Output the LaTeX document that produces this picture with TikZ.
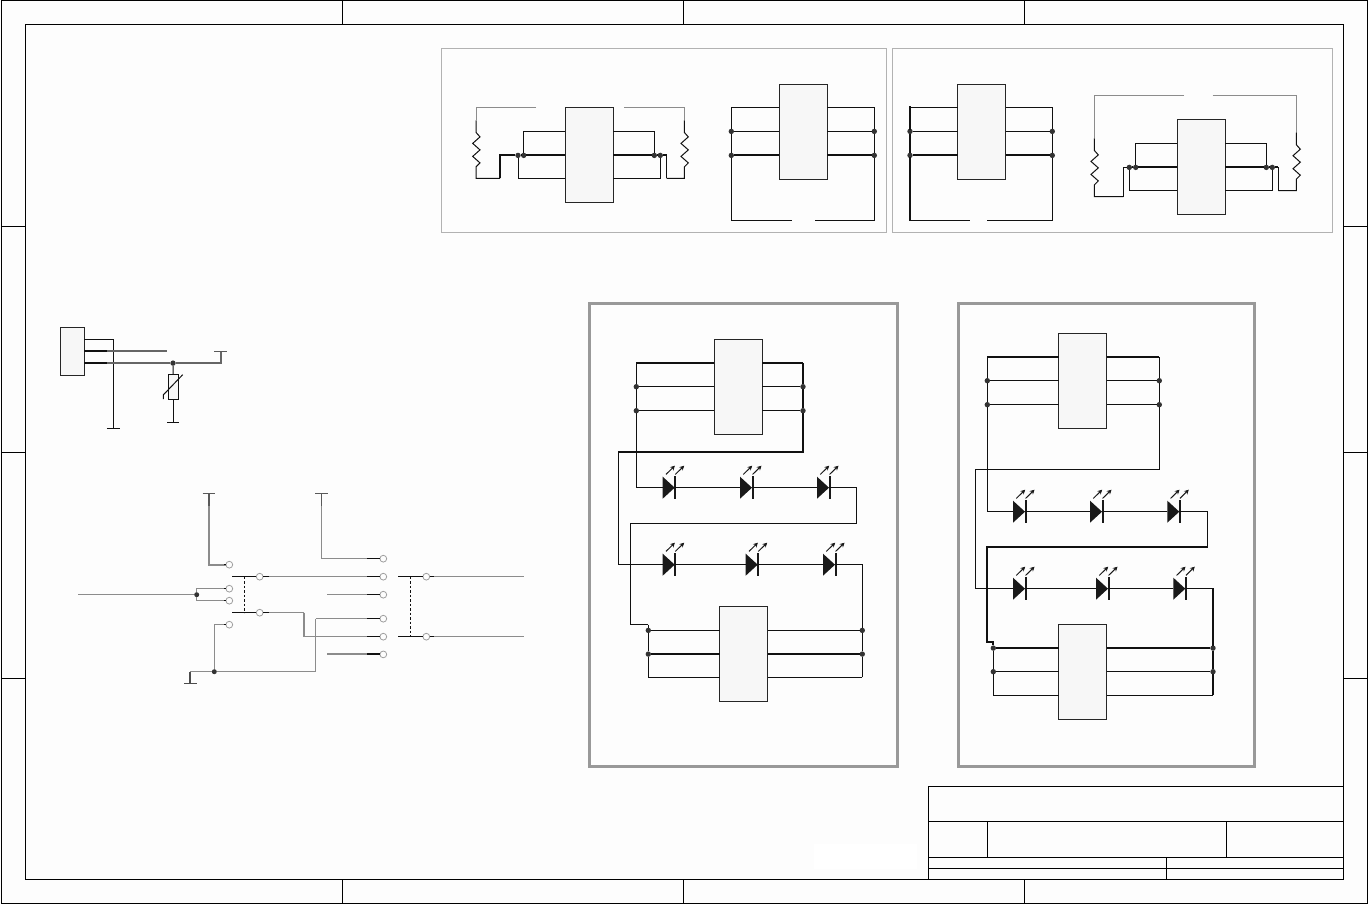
\documentclass[tikz,border=0pt]{standalone}
\usetikzlibrary{arrows.meta}
\definecolor{bgc}{HTML}{FDFDFD}
\definecolor{icf}{HTML}{F7F7F7}
\definecolor{lk}{HTML}{111111}
\tikzset{
  x=1pt,y=-1pt,
  frame/.style={draw=black,line width=1pt},
  panelbox/.style={draw=black!30,line width=1pt},
  ledbox/.style={draw=black!40,line width=3pt},
  ic/.style={draw=black!85,line width=1pt,fill=icf,minimum width=48pt,minimum height=95pt,inner sep=0pt,outer sep=0pt},
  conn/.style={draw=black!85,line width=1pt,fill=icf,minimum width=24pt,minimum height=48pt,inner sep=0pt,outer sep=0pt},
  dot/.style={circle,fill=black!80,minimum size=5.4pt,inner sep=0pt,outer sep=0pt},
  pad/.style={circle,draw=black!38,line width=.8pt,fill=bgc,minimum size=6.8pt,inner sep=0pt,outer sep=0pt},
  bk/.style={draw=lk,line width=1pt},
  tk/.style={draw=lk,line width=2pt},
  gw/.style={draw=black!45,line width=1pt},
  gt/.style={draw=black!45,line width=2pt},
  dg/.style={draw=black!65,line width=2pt},
  dsh/.style={draw=lk,line width=.9pt,dash pattern=on 2.5pt off 2pt},
  rz/.style={insert path={-- ++(0,12) -- ++(4,4.5) -- ++(-7.3,6.5) -- ++(7.3,6.5) -- ++(-7.3,6.5) -- ++(7.3,6.5) -- ++(-4,4) -- ++(0,1)}},
  led/.pic={
    \draw[draw=black!25,line width=1.4pt] (-8.5,0) -- (27.5,0);
    \fill[black!90] (0,-11) -- (12,0) -- (0,11) -- cycle;
    \draw[draw=black!90,line width=2pt] (12.6,-11.3) -- (12.6,11.3);
    \draw[draw=black!90,line width=1pt,-{Stealth[length=4.6pt,width=4.8pt]}] (3.3,-13.3) -- (12.2,-22);
    \draw[draw=black!90,line width=1pt,-{Stealth[length=4.6pt,width=4.8pt]}] (12.6,-13.3) -- (21.5,-22);
    \coordinate (-a) at (0,0);
    \coordinate (-k) at (12.6,0);
  }
}
\begin{document}
\begin{tikzpicture}
\fill[bgc] (0,0) rectangle (1368,904);
\useasboundingbox (0,0) rectangle (1368,904);
\fill[white] (814,844) rectangle (917,869);

% ---------- sheet frame
\draw[frame] (1,1) rectangle (1367,903);
\draw[frame] (25,25) rectangle (1343,879);
\foreach \tx in {342.5,683.5,1024.5}{
  \draw[frame] (\tx,1) -- (\tx,25);
  \draw[frame] (\tx,879) -- (\tx,903);
}
\foreach \ty in {226.5,452.5,678.5}{
  \draw[frame] (1,\ty) -- (25,\ty);
  \draw[frame] (1343,\ty) -- (1367,\ty);
}
% ---------- title block
\draw[frame] (928.5,879) -- (928.5,786.5) -- (1343,786.5);
\draw[frame] (928.5,821.5) -- (1343,821.5);
\draw[frame] (928.5,857) -- (1343,857);
\draw[frame] (928.5,868.5) -- (1343,868.5);
\draw[frame] (987.5,821.5) -- (987.5,857);
\draw[frame] (1226,821.5) -- (1226,857);
\draw[frame] (1166,857) -- (1166,879);

\begin{scope}[shift={(0,0.4)}]
% ---------- upper panels
\draw[panelbox] (441.5,48.5) rectangle (886.5,232.5);
\draw[panelbox] (892.5,48.5) rectangle (1332.5,232.5);

% panel A
\node[ic] (a) at (589,154.5) {};
\node[dot] (a1) at (518,155) {};
\node[dot] (a2) at (523.7,155) {};
\node[dot] (a3) at (654.3,155) {};
\node[dot] (a4) at (660.3,155) {};
\coordinate (ag1) at (536,107);
\coordinate (ag2) at (624,107);
\coordinate (ar1) at (476,120);
\coordinate (ar2) at (684.3,120);
\coordinate (ak) at (500,178);
\coordinate (am) at (666.7,178);
\draw[gw] (ag1) -| (ar1);
\draw[gw] (ag2) -| (ar2);
\draw[bk] (ar1) [rz] |- (ak);
\draw[bk] (ar2) [rz] |- (am);
\draw[tk] (ak) |- (a1);
\draw[bk] (am) -- (am |- a4);
\draw[tk] (a1) -- (a2);
\draw[tk] (a2) -- (a.west |- a2);
\draw[tk] (a.east |- a3) -- (a3);
\draw[tk] (a3) -- (a4);
\draw[tk] (a4) -- (am |- a4);
\draw[bk] (a2) |- (a.west |- 0,131);
\draw[bk] (a1) |- (a.west |- 0,178);
\draw[bk] (a3) |- (a.east |- 0,131);
\draw[bk] (a4) |- (a.east |- 0,178);

% panel B
\node[ic] (b) at (803.2,131.8) {};
\node[dot] (b1) at (731.3,131) {};
\node[dot] (b2) at (731.3,155) {};
\node[dot] (b3) at (874.3,131) {};
\node[dot] (b4) at (874.3,155) {};
\coordinate (bg1) at (791.7,220);
\coordinate (bg2) at (814.7,220);
\draw[bk] (b.west |- 0,107) -| (b1);
\draw[bk] (b1) -- (b2);
\draw[bk] (b2) |- (bg1);
\draw[bk] (b.east |- 0,107) -| (b3);
\draw[bk] (b3) -- (b4);
\draw[bk] (b4) |- (bg2);
\draw[bk] (b1) -- (b.west |- b1);
\draw[bk] (b3) -- (b.east |- b3);
\draw[tk] (b2) -- (b.west |- b2);
\draw[tk] (b4) -- (b.east |- b4);

% panel C
\node[ic] (c) at (981.5,131.8) {};
\node[dot] (c1) at (910,131) {};
\node[dot] (c2) at (910,155) {};
\node[dot] (c3) at (1052.3,131) {};
\node[dot] (c4) at (1052.3,155) {};
\coordinate (cg0) at (910,220);
\coordinate (cg1) at (970,220);
\coordinate (cg2) at (986.7,220);
\draw[bk] (c.west |- 0,107) -| (c1);
\draw[draw=lk,line width=2pt,line cap=rect] (c1 |- 0,107) -- (c1);
\draw[draw=lk,line width=2pt] (c1) -- (c2);
\draw[draw=lk,line width=2pt,line cap=rect] (c2) -- (cg0);
\draw[bk] (cg0) -- (cg1);
\draw[bk] (c.east |- 0,107) -| (c3);
\draw[bk] (c3) -- (c4);
\draw[bk] (c4) |- (cg2);
\draw[bk] (c1) -- (c.west |- c1);
\draw[bk] (c3) -- (c.east |- c3);
\draw[tk] (c2) -- (c.west |- c2);
\draw[tk] (c4) -- (c.east |- c4);

% panel D
\node[ic] (d) at (1201.3,166.8) {};
\node[dot] (d1) at (1129.3,167) {};
\node[dot] (d2) at (1135.7,167) {};
\node[dot] (d3) at (1266.3,167) {};
\node[dot] (d4) at (1272.3,167) {};
\coordinate (dg1) at (1184,95.3);
\coordinate (dg2) at (1212.7,95.3);
\coordinate (dr1) at (1094.3,138);
\coordinate (dr2) at (1296.3,132.3);
\coordinate (dk) at (1123.3,196.3);
\coordinate (dm) at (1278.3,190.3);
\draw[gw] (dg1) -| (dr1);
\draw[gw] (dg2) -| (dr2);
\draw[bk] (dr1) [rz] |- (dk);
\draw[bk] (dr2) [rz] |- (dm);
\draw[bk] (dk) |- (d1);
\draw[bk] (dm) -- (dm |- d4);
\draw[tk] (d1) -- (d2);
\draw[tk] (d2) -- (d.west |- d2);
\draw[tk] (d.east |- d3) -- (d3);
\draw[tk] (d3) -- (d4);
\draw[tk] (d4) -- (dm |- d4);
\draw[bk] (d2) |- (d.west |- 0,143.3);
\draw[bk] (d1) |- (d.west |- 0,190.3);
\draw[bk] (d3) |- (d.east |- 0,143.3);
\draw[bk] (d4) |- (d.east |- 0,190.3);

% ---------- connector and varistor
\node[conn] (j) at (72.3,351.3) {};
\node[dot] (jd) at (173,362.7) {};
\node[draw=lk,line width=1pt,fill=icf,minimum width=10pt,minimum height=24.4pt,inner sep=0pt,outer sep=0pt] (rv) at (173.3,386.5) {};
\coordinate (jg) at (113.3,428.3);
\coordinate (je1) at (107.3,351);
\coordinate (je2) at (107.3,362.7);
\coordinate (je3) at (167.3,351);
\coordinate (je4) at (220.7,351);
\coordinate (je5) at (173.3,422.3);
\draw[bk] (j.east |- 0,339.3) -| (jg);
\draw[bk] ([xshift=-6.5pt]jg) -- ([xshift=6.7pt]jg);
\draw[draw=black!60,line width=2pt] (je1) -- (je3);
\draw[draw=black!60,line width=2pt] (je2) -- (jd);
\draw[draw=black!60,line width=2pt] (jd) -| (je4);
\draw[tk] (j.east |- je1) -- (je1);
\draw[tk] (j.east |- je2) -- (je2);
\draw[draw=black!65,line width=1.4pt] ([xshift=-6.7pt]je4) -- ([xshift=6.7pt]je4);
\draw[bk] (jd) -- (rv);
\draw[bk] (rv) -- (je5);
\draw[bk] ([xshift=-6pt]je5) -- ([xshift=6pt]je5);
\draw[bk] (163.3,398.7) -- (163.3,394.5) -- (182.7,374.3);

% ---------- switches
\node[pad] (p1) at (229.3,564.3) {};
\node[pad] (p2) at (229.3,588.3) {};
\node[pad] (p3) at (229.3,600.3) {};
\node[pad] (p4) at (229.3,624.3) {};
\node[pad] (s1) at (259.7,576.3) {};
\node[pad] (s2) at (259.7,612.3) {};
\node[pad] (o1) at (383.3,558.3) {};
\node[pad] (o2) at (383.3,576.3) {};
\node[pad] (o3) at (383.3,594.3) {};
\node[pad] (o4) at (383.3,618.3) {};
\node[pad] (o5) at (383.3,636.3) {};
\node[pad] (o6) at (383.3,654) {};
\node[pad] (s3) at (426.3,576.3) {};
\node[pad] (s4) at (426.3,636.3) {};
\node[dot,minimum size=5pt] (n1) at (196.7,594.3) {};
\node[dot,minimum size=5pt] (n2) at (214.3,671.3) {};
\coordinate (t1) at (209,493.3);
\coordinate (t1b) at (209,505.7);
\coordinate (t2) at (321.7,493.3);
\coordinate (t2b) at (321.7,505.7);
\coordinate (gnd) at (190.3,683.3);
\coordinate (in) at (78,594.3);
\coordinate (f1) at (327.3,594.3);
\coordinate (f2) at (327.3,654);
\coordinate (r1) at (524,576.3);
\coordinate (r2) at (524,636.3);
\coordinate (w1) at (232,576.3);
\coordinate (w2) at (232,612.3);
\coordinate (w3) at (398.3,576.3);
\coordinate (w4) at (398.3,636.3);
\coordinate (cr1) at (304,612.3);
\coordinate (cr2) at (315.7,618.3);
% gray runs
\draw[gt] (t1b) |- (p1);
\draw[dg] (t1) -- (t1b);
\draw[draw=black!65,line width=1.1pt] ([xshift=-6.3pt]t1) -- ([xshift=6.3pt]t1);
\draw[gw] (t2b) |- (o1);
\draw[draw=black!65,line width=1pt] (t2) -- (t2b);
\draw[draw=black!65,line width=1pt] ([xshift=-6.3pt]t2) -- ([xshift=6.3pt]t2);
\draw[bk] (p1) -- ++(-5,0);
\draw[gw] (in) -- (n1);
\draw[gw] (n1) |- (p2);
\draw[gw] (n1) |- (p3);
\draw[bk] (p2) -- ++(-5,0);
\draw[bk] (p3) -- ++(-5,0);
\draw[gw] (p4) -| (n2);
\draw[bk] (p4) -- ++(-5,0);
\draw[gw] (n2) -| (gnd);
\draw[draw=black!70,line width=2pt] (gnd |- 0,672) -- (gnd);
\draw[draw=black!70,line width=1pt] ([xshift=-6.3pt]gnd) -- ([xshift=6.6pt]gnd);
\draw[gw] (n2) -| (cr2);
\draw[gw] (cr2) -- (o4);
\draw[gw] (s1) -- (o2);
\draw[gw] (s2) -- (cr1);
\draw[gt] (cr1) -- (cr1 |- o5);
\draw[gw] (cr1 |- o5) -- (o5);
\draw[gw] (f1) -- (o3);
\draw[gt] (f2) -- (o6);
\draw[gw] (s3) -- (r1);
\draw[gw] (s4) -- (r2);
% black stubs
\draw[bk] (w1) -- (s1);
\draw[bk] (w2) -- (s2);
\draw[bk] (s1) -- ++(9,0);
\draw[bk] (s2) -- ++(9,0);
\draw[bk] (w3) -- (s3);
\draw[bk] (w4) -- (s4);
\draw[bk] (s3) -- ++(8,0);
\draw[bk] (s4) -- ++(8,0);
\foreach \o in {o1,o2,o3,o4,o5}{ \draw[bk] (\o) -- ++(-16,0); }
\draw[tk] (o6) -- ++(-16,0);
\draw[dsh] (244.3,576.3) -- (244.3,612.3);
\draw[dsh] (410.3,576.3) -- (410.3,636.3);

% ---------- LED panels
\draw[ledbox] (589.5,303.5) rectangle (897.5,766);
\draw[ledbox] (958,303.5) rectangle (1254,766);

% left LED board
\node[ic] (e) at (738,386.8) {};
\node[ic] (f) at (743.8,653.8) {};
\node[dot] (e1) at (636.3,386.3) {};
\node[dot] (e2) at (636.3,410.3) {};
\node[dot] (e3) at (803,386.3) {};
\node[dot] (e4) at (803,410.3) {};
\node[dot] (f1d) at (648.3,630) {};
\node[dot] (f2d) at (648.3,653.7) {};
\node[dot] (f3d) at (862.3,630) {};
\node[dot] (f4d) at (862.3,653.7) {};
\pic (l1) at (662.7,487.3) {led};
\pic (l2) at (740,487.3) {led};
\pic (l3) at (817,487.3) {led};
\pic (l4) at (662.7,564.3) {led};
\pic (l5) at (745.7,564.3) {led};
\pic (l6) at (823,564.3) {led};
\coordinate (ea) at (636.3,363);
\coordinate (eb) at (803,363);
\coordinate (ec) at (803,452);
\coordinate (ed) at (618.7,452);
\coordinate (ee) at (856.7,523.3);
\coordinate (ef) at (630.3,523.3);
\coordinate (eg) at (630.3,624.3);
\coordinate (eh) at (648.3,624.3);
\coordinate (ei) at (648.3,677);
\coordinate (ej) at (862.3,677);
\draw[tk] (e.west |- ea) -- (ea);
\draw[tk] (e.east |- eb) -- (eb);
\draw[bk] (ea) -- (e1);
\draw[bk] (e1) -- (e2);
\draw[bk] (e2) |- (l1-a);
\draw[tk] (eb) -- (e3);
\draw[tk] (e3) -- (e4);
\draw[tk] (e4) -- (ec);
\draw[tk,line cap=rect] (ec) -- (ed);
\draw[bk] (ed) |- (l4-a);
\draw[bk] (e1) -- (e.west |- e1);
\draw[bk] (e2) -- (e.west |- e2);
\draw[bk] (e3) -- (e.east |- e3);
\draw[bk] (e4) -- (e.east |- e4);
\draw[bk] (l1-k) -- (l2-a);
\draw[bk] (l2-k) -- (l3-a);
\draw[bk] (l3-k) -| (ee);
\draw[bk] (ee) -- (ef);
\draw[bk] (ef) -- (eg);
\draw[bk] (eg) -- (eh);
\draw[bk] (eh) -- (f1d);
\draw[bk] (l4-k) -- (l5-a);
\draw[bk] (l5-k) -- (l6-a);
\draw[bk] (l6-k) -| (f3d);
\draw[bk] (f1d) -- (f2d);
\draw[bk] (f2d) -- (ei);
\draw[bk] (ei) -- (f.west |- ei);
\draw[bk] (f3d) -- (f4d);
\draw[bk] (f4d) -- (ej);
\draw[bk] (ej) -- (f.east |- ej);
\draw[bk] (f1d) -- (f.west |- f1d);
\draw[bk] (f3d) -- (f.east |- f3d);
\draw[tk] (f2d) -- (f.west |- f2d);
\draw[tk] (f4d) -- (f.east |- f4d);

% right LED board
\node[ic] (g) at (1082.5,380.8) {};
\node[ic] (h) at (1082.5,671.8) {};
\node[dot] (g1) at (987.3,380.3) {};
\node[dot] (g2) at (987.3,404.3) {};
\node[dot] (g3) at (1159.3,380.3) {};
\node[dot] (g4) at (1159.3,404.3) {};
\node[dot] (h1) at (993.3,647.7) {};
\node[dot] (h2) at (993.3,671.3) {};
\node[dot] (h3) at (1213,647.7) {};
\node[dot] (h4) at (1213,671.3) {};
\pic (m1) at (1013,511.3) {led};
\pic (m2) at (1090,511.3) {led};
\pic (m3) at (1167.3,511.3) {led};
\pic (m4) at (1013,588.3) {led};
\pic (m5) at (1096,588.3) {led};
\pic (m6) at (1173.3,588.3) {led};
\coordinate (ga) at (987.3,356.7);
\coordinate (gb) at (1159.3,356.7);
\coordinate (gc) at (1159.3,469.3);
\coordinate (gd) at (975.3,469.3);
\coordinate (ge) at (1207.3,546.7);
\coordinate (gf) at (987.3,546.7);
\coordinate (gg) at (987.3,641.7);
\coordinate (gh) at (993.3,641.7);
\coordinate (gi) at (993.3,695);
\coordinate (gj) at (1213,695);
\draw[tk] (g.west |- ga) -- (ga);
\draw[tk] (g.east |- gb) -- (gb);
\draw[bk] (ga) -- (g1);
\draw[bk] (g1) -- (g2);
\draw[bk] (g2) |- (m1-a);
\draw[bk] (gb) -- (g3);
\draw[bk] (g3) -- (g4);
\draw[bk] (g4) -- (gc);
\draw[bk] (gc) -- (gd);
\draw[bk] (gd) |- (m4-a);
\draw[bk] (g1) -- (g.west |- g1);
\draw[bk] (g2) -- (g.west |- g2);
\draw[bk] (g3) -- (g.east |- g3);
\draw[bk] (g4) -- (g.east |- g4);
\draw[bk] (m1-k) -- (m2-a);
\draw[bk] (m2-k) -- (m3-a);
\draw[bk] (m3-k) -| (ge);
\draw[draw=lk,line width=1.8pt,line cap=rect] (ge) -- (gf);
\draw[draw=lk,line width=1.8pt] (gf) -- (gg);
\draw[draw=lk,line width=1.8pt,line cap=rect] (gg) -- (gh);
\draw[draw=lk,line width=1.8pt] (gh) -- (h1);
\draw[bk] (m4-k) -- (m5-a);
\draw[bk] (m5-k) -- (m6-a);
\draw[bk] (m6-k) -- (m6-k -| h3);
\draw[draw=lk,line width=1.8pt,line cap=rect] (m6-k -| h3) -- (h3);
\draw[draw=lk,line width=1.8pt] (h3) -- (h4);
\draw[draw=lk,line width=1.8pt] (h4) -- (gj);
\draw[bk] (h1) -- (h2);
\draw[bk] (h2) -- (gi);
\draw[bk] (gi) -- (h.west |- gi);
\draw[bk] (gj) -- (h.east |- gj);
\draw[bk] (h2) -- (h.west |- h2);
\draw[bk] (h4) -- (h.east |- h4);
\draw[tk] (h1) -- (h.west |- h1);
\draw[tk] (h3) -- (h.east |- h3);
\end{scope}
\end{tikzpicture}
\end{document}
